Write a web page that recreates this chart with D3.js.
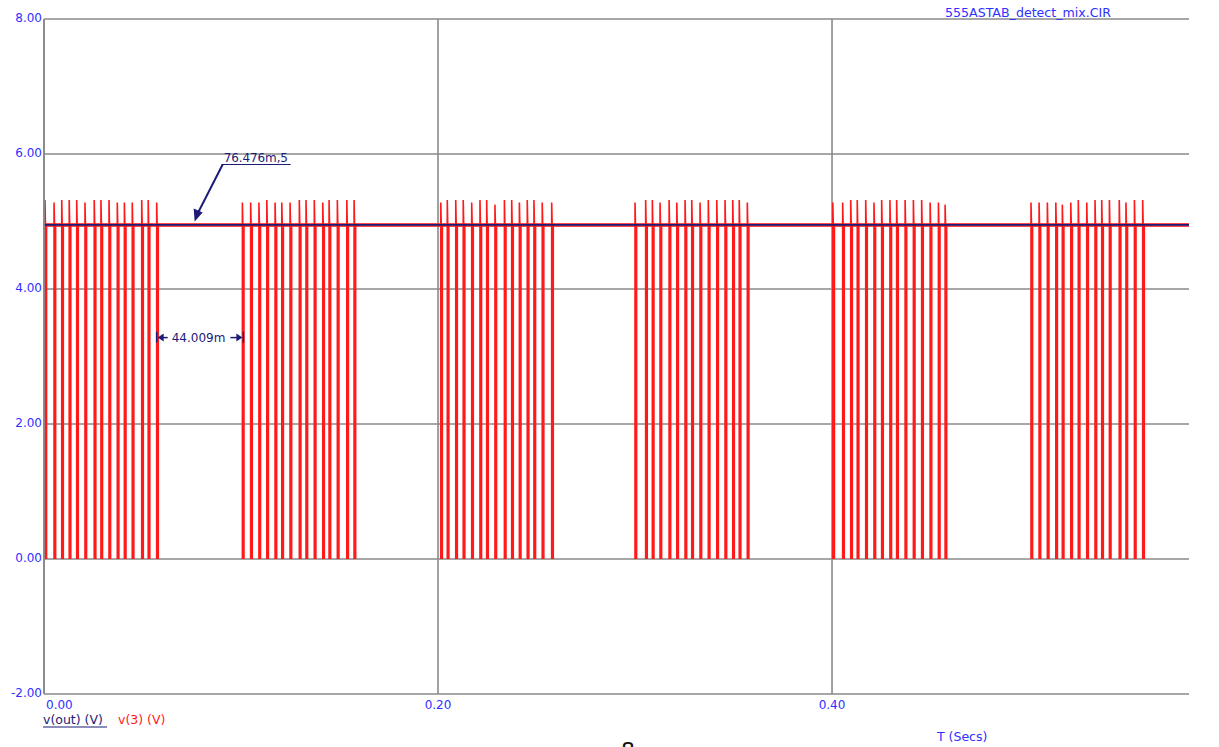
<!DOCTYPE html>
<html><head><meta charset="utf-8">
<script src="https://cdn.jsdelivr.net/npm/d3@7/dist/d3.min.js"></script>
<style>body{margin:0;background:#fff;overflow:hidden}svg{display:block}text{font-family:"DejaVu Sans",Verdana,sans-serif}</style>
</head><body><svg id="c" width="1219" height="747"></svg>
<script>
// ---- data ----
const yTicks = [-2, 0, 2, 4, 6, 8];
const yTickLabels = ["-2.00", "0.00", "2.00", "4.00", "6.00", "8.00"];
const xTicks = [0, 0.2, 0.4];
const xTickLabels = ["0.00", "0.20", "0.40"];
const xDomain = [0, 0.5812];
const yDomain = [-2, 8];
const voutLevel = 4.95;
const burst1T = [0.0005,0.0051,0.0090,0.0128,0.0166,0.0208,0.0255,0.0289,0.0330,0.0372,0.0408,0.0448,0.0496,0.0529,0.0572];
const peaks1  = [5.32,5.28,5.32,5.32,5.32,5.28,5.32,5.32,5.32,5.28,5.28,5.28,5.32,5.32,5.28];
const burst2T = [0.1007,0.1049,0.1091,0.1131,0.1173,0.1207,0.1249,0.1296,0.1330,0.1372,0.1415,0.1447,0.1489,0.1537,0.1574];
const peaks2  = [5.28,5.28,5.28,5.32,5.28,5.28,5.28,5.32,5.32,5.32,5.28,5.32,5.32,5.32,5.32];
const burst3T = [0.2014,0.2047,0.2090,0.2128,0.2171,0.2213,0.2247,0.2289,0.2337,0.2374,0.2413,0.2453,0.2487,0.2529,0.2577];
const peaks3  = [5.28,5.32,5.32,5.32,5.28,5.32,5.32,5.25,5.32,5.32,5.28,5.32,5.32,5.28,5.28];
const burst4T = [0.3000,0.3054,0.3088,0.3127,0.3173,0.3212,0.3254,0.3288,0.3330,0.3372,0.3415,0.3457,0.3496,0.3529,0.3570];
const peaks4  = [5.28,5.32,5.32,5.28,5.32,5.28,5.32,5.32,5.28,5.32,5.32,5.32,5.32,5.32,5.28];
const burst5T = [0.4004,0.4054,0.4095,0.4128,0.4171,0.4213,0.4252,0.4294,0.4328,0.4371,0.4413,0.4455,0.4498,0.4540,0.4574];
const peaks5  = [5.28,5.28,5.32,5.32,5.32,5.28,5.32,5.32,5.32,5.32,5.32,5.32,5.28,5.28,5.25];
const burst6T = [0.5010,0.5051,0.5093,0.5136,0.5169,0.5212,0.5250,0.5293,0.5335,0.5369,0.5408,0.5458,0.5492,0.5535,0.5577];
const peaks6  = [5.28,5.28,5.28,5.28,5.25,5.28,5.32,5.28,5.32,5.32,5.32,5.32,5.28,5.32,5.32];
const pulseWidth = 0.0008;
const cursorPoint = [0.076476, 5];
const cursorLabel = "76.476m,5";
const measureStart = 0.0572, measureDelta = 0.044009, measureLevel = 3.28;
const measureLabel = "44.009m";
const titleText = "555ASTAB_detect_mix.CIR";

// ---- chart ----
const svg = d3.select("#c");
const L = 44, R = 1189, T = 19, B = 694;
const x = d3.scaleLinear().domain(xDomain).range([L, R]);
const y = d3.scaleLinear().domain(yDomain).range([B, T]);
const blue = "#3030ff", navy = "#1c1c78", red = "#ff1a1a", grid = "#8a8a8a";

// grid
svg.append("g").selectAll("line").data(yTicks).join("line")
  .attr("x1", L).attr("x2", R).attr("y1", d => y(d)).attr("y2", d => y(d))
  .attr("stroke", grid).attr("stroke-width", 1.6);
svg.append("g").selectAll("line").data(xTicks).join("line")
  .attr("x1", d => x(d)).attr("x2", d => x(d)).attr("y1", T).attr("y2", B)
  .attr("stroke", grid).attr("stroke-width", 1.6);

// tick labels
svg.append("g").selectAll("text").data(yTicks).join("text")
  .attr("x", L - 2).attr("y", d => y(d) + 3).attr("text-anchor", "end")
  .attr("font-size", 12).attr("fill", blue)
  .text((d, i) => yTickLabels[i]);
svg.append("g").selectAll("text").data(xTicks).join("text")
  .attr("x", (d, i) => i === 0 ? x(d) + 2 : x(d)).attr("y", B + 15)
  .attr("text-anchor", (d, i) => i === 0 ? "start" : "middle")
  .attr("font-size", 12).attr("fill", blue)
  .text((d, i) => xTickLabels[i]);

// v(out) horizontal with red halo
const vline = d3.line().x(d => x(d[0])).y(d => y(d[1]));
svg.append("path").attr("d", vline([[xDomain[0], voutLevel], [xDomain[1], voutLevel]]))
  .attr("stroke", red).attr("stroke-width", 4).attr("fill", "none").attr("opacity", 0.8);

// pulses
const bursts = [[burst1T, peaks1], [burst2T, peaks2], [burst3T, peaks3], [burst4T, peaks4], [burst5T, peaks5], [burst6T, peaks6]];
const pulses = [];
bursts.forEach(([ts, ps]) => ts.forEach((t, i) => pulses.push({t, p: ps[i]})));
svg.append("g").selectAll("path").data(pulses).join("path")
  .attr("d", d => vline([[d.t, 0], [d.t, d.p], [d.t + pulseWidth * 0.3, voutLevel], [d.t + pulseWidth, voutLevel], [d.t + pulseWidth, 0]]))
  .attr("fill", "none").attr("stroke", red).attr("stroke-width", 1.6);

svg.append("path").attr("d", vline([[xDomain[0], voutLevel], [xDomain[1], voutLevel]]))
  .attr("stroke", navy).attr("stroke-width", 1.8).attr("fill", "none");

// left axis border
svg.append("line").attr("x1", L).attr("x2", L).attr("y1", T).attr("y2", B)
  .attr("stroke", grid).attr("stroke-width", 1.8);

// cursor annotation
const cx = x(cursorPoint[0]), cy = y(cursorPoint[1]);
const lx = cx + 28, ly = cy - 57;
svg.append("line").attr("x1", lx).attr("y1", ly).attr("x2", cx + 4).attr("y2", cy - 10)
  .attr("stroke", navy).attr("stroke-width", 2);
svg.append("path").attr("d", `M${cx},${cy}L${cx - 1},${cy - 13}L${cx + 8},${cy - 9}Z`).attr("fill", navy);
svg.append("line").attr("x1", lx - 1).attr("y1", ly).attr("x2", lx + 68).attr("y2", ly)
  .attr("stroke", navy).attr("stroke-width", 1.2);
svg.append("text").attr("x", lx + 1).attr("y", ly - 2.5).attr("font-size", 12).attr("fill", navy)
  .attr("letter-spacing", -0.1).text(cursorLabel);

// measurement
const m1 = x(measureStart), m2 = x(measureStart + measureDelta), my = y(measureLevel);
svg.append("line").attr("x1", m1).attr("x2", m1).attr("y1", my - 6).attr("y2", my + 5).attr("stroke", navy).attr("stroke-width", 1.5);
svg.append("line").attr("x1", m2).attr("x2", m2).attr("y1", my - 6).attr("y2", my + 5).attr("stroke", navy).attr("stroke-width", 1.5);
svg.append("path").attr("d", `M${m1 + 1},${my}L${m1 + 7},${my - 4}L${m1 + 7},${my + 4}Z`).attr("fill", navy);
svg.append("line").attr("x1", m1 + 6).attr("x2", m1 + 11).attr("y1", my).attr("y2", my).attr("stroke", navy).attr("stroke-width", 1.5);
svg.append("path").attr("d", `M${m2 - 1},${my}L${m2 - 7},${my - 4}L${m2 - 7},${my + 4}Z`).attr("fill", navy);
svg.append("line").attr("x1", m2 - 6).attr("x2", m2 - 13).attr("y1", my).attr("y2", my).attr("stroke", navy).attr("stroke-width", 1.5);
svg.append("text").attr("x", m1 + 15).attr("y", my + 4.5).attr("font-size", 12).attr("fill", navy).text(measureLabel);

// title & legend
svg.append("text").attr("x", 945).attr("y", 17).attr("font-size", 12.6).attr("fill", blue).text(titleText);
svg.append("text").attr("x", 43).attr("y", 724).attr("font-size", 12.5).attr("fill", navy).text("v(out) (V)");
svg.append("line").attr("x1", 43).attr("x2", 107).attr("y1", 727).attr("y2", 727).attr("stroke", navy).attr("stroke-width", 1.2);
svg.append("text").attr("x", 118).attr("y", 724).attr("font-size", 12.5).attr("fill", red).text("v(3) (V)");
svg.append("text").attr("x", 937).attr("y", 741).attr("font-size", 12.5).attr("fill", blue).text("T (Secs)");
svg.append("text").attr("x", 628).attr("y", 758).attr("font-size", 22).attr("text-anchor", "middle")
  .attr("font-family", "Liberation Serif, serif").attr("fill", "#111").text("8");
</script></body></html>
